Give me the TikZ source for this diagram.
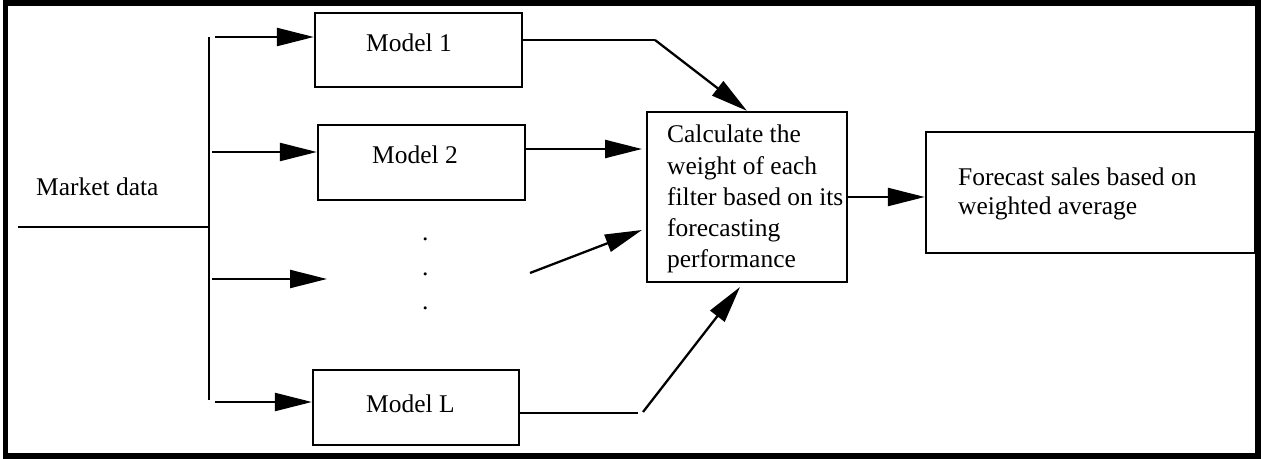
\documentclass[tikz,border=0pt]{standalone}
\usepackage{fontspec}
\setmainfont{Liberation Serif}
\usepackage{tikz}
\usetikzlibrary{arrows.meta}
\def \px{0.02cm}

\begin{document}
\begin{tikzpicture}[x=\px, y=-\px, line width=1.3pt,
    every node/.style={font=\fontsize{14.5}{17.8}\selectfont},
    box/.style={draw=black, line width=1.3pt, inner sep=0pt},
    txt/.style={anchor=base west, inner sep=0pt, align=left},
    >={Triangle[length=0.74cm, width=0.36cm]}]
    \useasboundingbox (0, 0) rectangle (1261, 459);
    \draw[line width=3.1pt] (5.5, 3) rectangle (1258, 456);

    % boxes
    \node[box, minimum width=207*\px, minimum height=74*\px] (M1) at (418.5, 50) {};
    \node[box, minimum width=207*\px, minimum height=75*\px] (M2) at (421.5, 162.5) {};
    \node[box, minimum width=206*\px, minimum height=75*\px] (ML) at (416, 407.5) {};
    \node[box, minimum width=200*\px, minimum height=170*\px] (CW) at (747, 197) {};
    \node[box, minimum width=329*\px, minimum height=121*\px] (FC) at (1090.5, 192.5) {};

    % texts (multi-line ones sit on their last baseline)
    \node[txt] (data) at (35, 196) {Market data};
    \node[txt] (T1) at (365, 52) {Model 1};
    \node[txt] (T2) at (371, 164) {Model 2};
    \node[txt] (TL) at (365, 412) {Model L};
    \node[txt] (D1) at (421, 240.5) {.};
    \node[txt] (D2) at (421, 275.5) {.};
    \node[txt] (D3) at (421, 309.5) {.};
    \node[txt] (TW) at (666, 268) {Calculate the\\weight of each\\filter based on its\\forecasting\\performance};
    \node[txt, font=\fontsize{14.5}{17}\selectfont] (TF) at (957, 215) {Forecast sales based on\\weighted average};

    % input bus
    \coordinate (b1) at (209, 37);
    \coordinate (b4) at (209, 400);
    \coordinate (md) at (18, 227);
    \draw (b1) -- (b4);
    \draw (md) -- (md -| b1);

    \coordinate (a1) at (215, 37);
    \coordinate (a2) at (212, 152);
    \coordinate (a3) at (212, 279);
    \coordinate (a4) at (215, 402);
    \coordinate (e3) at (327, 279);
    \path[->] (a1) edge (a1 -| M1.west);
    \path[->] (a2) edge (a2 -| M2.west);
    \path[->] (a3) edge (e3);
    \path[->] (a4) edge (a4 -| ML.west);

    % model outputs
    \coordinate (k1) at (655, 40);
    \coordinate (c2) at (642, 149);
    \coordinate (s3) at (530, 273);
    \coordinate (c3) at (642, 230);
    \coordinate (k4) at (638, 413);
    \coordinate (s4) at (643, 412);
    \coordinate (c4) at (740, 287);
    \draw (k1 -| M1.east) -- (k1);
    \path[->] (k1) edge (CW.north);
    \path[->] (c2 -| M2.east) edge (c2);
    \path[->] (s3) edge (c3);
    \draw (k4 -| ML.east) -- (k4);
    \path[->] (s4) edge (c4);
    \path[->] (CW.east) edge (CW.east -| FC.west);
\end{tikzpicture}
\end{document}
